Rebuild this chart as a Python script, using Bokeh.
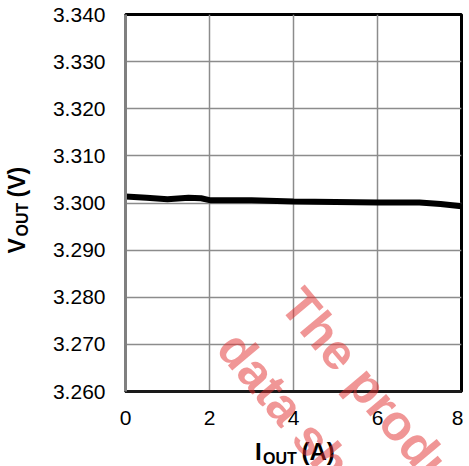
import math
from bokeh.plotting import figure
from bokeh.models import Range1d, FixedTicker, PrintfTickFormatter, Label
from bokeh.layouts import column
from bokeh.embed import file_html
from bokeh.resources import INLINE

# data
iout = [0, 0.5, 1.0, 1.5, 1.8, 2.0, 3.0, 4.0, 5.0, 6.0, 7.0, 7.5, 8.0]
vout = [3.3014, 3.3011, 3.3008, 3.3011, 3.3010, 3.3006, 3.3006, 3.3003,
        3.3002, 3.3001, 3.3001, 3.2998, 3.2993]
x_ticks = [0, 2, 4, 6, 8]
y_ticks = [3.260, 3.270, 3.280, 3.290, 3.300, 3.310, 3.320, 3.330, 3.340]

FONT = "Liberation Sans"
W, H = 463, 466

p = figure(width=W, height=H, output_backend="svg", toolbar_location=None,
           x_range=Range1d(0, 8), y_range=Range1d(3.260, 3.340),
           min_border_left=125, min_border_right=2, min_border_top=14,
           min_border_bottom=H - 391)

p.line(iout, vout, line_color="black", line_width=6)

# axes
p.xaxis.ticker = FixedTicker(ticks=x_ticks)
p.yaxis.ticker = FixedTicker(ticks=y_ticks)
p.yaxis.formatter = PrintfTickFormatter(format="%.3f")
for ax in (p.xaxis[0], p.yaxis[0]):
    ax.major_tick_out = 0
    ax.major_tick_in = 0
    ax.minor_tick_out = 0
    ax.minor_tick_in = 0
    ax.major_label_text_font = FONT
    ax.major_label_text_font_size = "21px"
    ax.major_label_text_color = "black"
p.yaxis.major_label_standoff = 20
p.xaxis.major_label_standoff = 19
p.yaxis.axis_line_color = "#808080"
p.yaxis.axis_line_width = 3
p.xaxis.axis_line_color = "#1a1a1a"
p.xaxis.axis_line_width = 3

p.outline_line_color = "black"
p.outline_line_width = 3
p.outline_line_alpha = 1

p.xgrid.grid_line_color = "#8c8c8c"
p.ygrid.grid_line_color = "#8c8c8c"
p.xgrid.grid_line_width = 1.5
p.ygrid.grid_line_width = 1.5
p.background_fill_color = "white"
p.border_fill_color = "white"

# transparent overlay (pixel coordinates) for axis titles and watermark
ov = figure(width=W, height=H, output_backend="svg", toolbar_location=None,
            x_range=Range1d(0, W), y_range=Range1d(0, H),
            x_axis_type=None, y_axis_type=None, min_border=0,
            min_border_left=0, min_border_right=0, min_border_top=0, min_border_bottom=0,
            margin=(-H, 0, 0, 0))
ov.outline_line_color = None
ov.background_fill_alpha = 0
ov.border_fill_alpha = 0
ov.grid.visible = False
for f in (p, ov):
    if "frame_align" in f.properties():
        f.frame_align = False

def lab(x, y_img, t, size, angle=0.0, color="black", alpha=1.0):
    ov.add_layout(Label(x=x, y=H - y_img, text=t, text_font=FONT, text_font_size=size,
                        text_font_style="bold", text_color=color, text_alpha=alpha,
                        angle=angle, text_align="left", text_baseline="alphabetic"))

# x axis title  I_OUT (A)
lab(254.5, 451.0, "I", "24px")
lab(262.5, 458.0, "OUT", "16px")
lab(301.0, 451.0, "(A)", "24px")

# y axis title  V_OUT (V)
lab(16.5, 253, "V", "23px", angle=math.pi / 2)
lab(22.0, 236, "OUT", "16px", angle=math.pi / 2)
lab(16.5, 197, "(V)", "23px", angle=math.pi / 2)

# watermark
wm = -50 * math.pi / 180
lab(290.6, 294.9, "The product", "50px", angle=wm, color="#e12d2d", alpha=0.5)
lab(227.3, 338.4, "data sheet", "50px", angle=wm, color="#e12d2d", alpha=0.5)

open("out.html", "w").write(file_html(column(p, ov), INLINE))
